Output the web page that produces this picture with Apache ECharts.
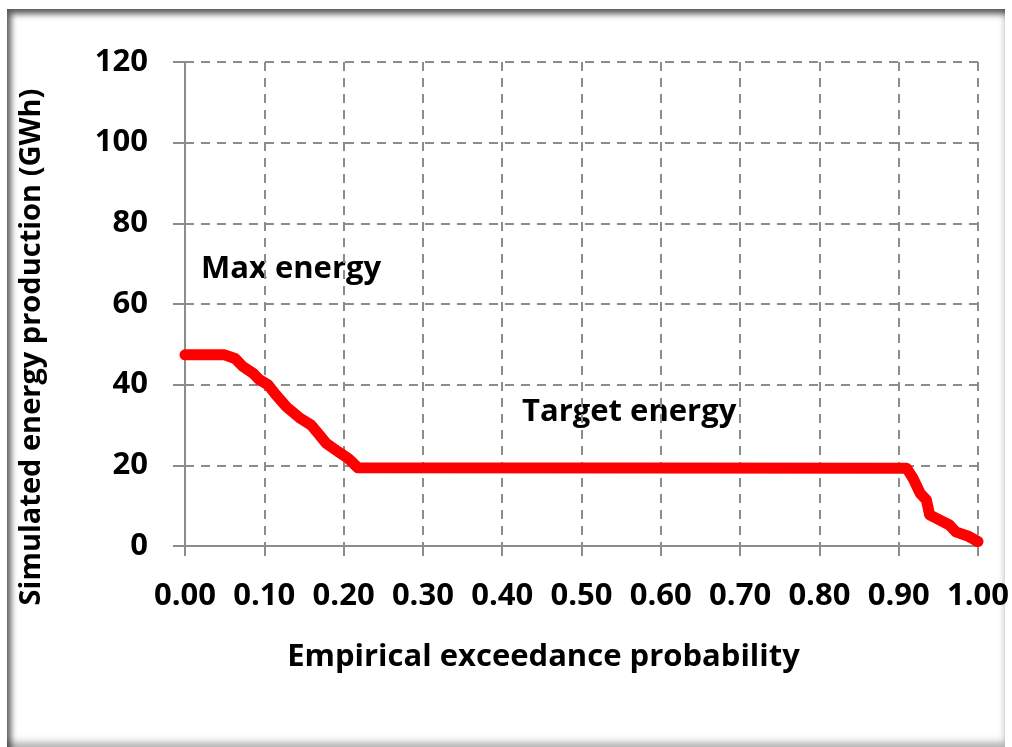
<!DOCTYPE html>
<html><head><meta charset="utf-8">
<script src="https://cdn.jsdelivr.net/npm/echarts@6/dist/echarts.min.js"></script>
<style>
html,body{margin:0;padding:0;background:#fff;width:1012px;height:747px;overflow:hidden}
#frame{position:absolute;left:7px;top:9px;width:998px;height:738px;
 box-shadow: inset 6px 7px 6px -2px rgba(0,0,0,0.65), inset -3px -8px 7px -3px rgba(0,0,0,0.3);}
#chart{position:absolute;left:0;top:0;width:1012px;height:747px}
</style></head>
<body>
<div id="frame"></div>
<div id="chart"></div>
<script>
const probs  = [0, 0.05, 0.063, 0.073, 0.086, 0.094, 0.105, 0.115, 0.128, 0.145, 0.159, 0.168, 0.178, 0.193, 0.206, 0.218, 0.910, 0.918, 0.927, 0.935, 0.939, 0.952, 0.964, 0.972, 0.987, 1.0];
const energy = [47.4, 47.4, 46.5, 44.5, 42.8, 41.2, 39.9, 37.4, 34.5, 31.7, 30.0, 27.9, 25.5, 23.4, 21.7, 19.4, 19.3, 16.8, 13.1, 11.4, 7.7, 6.4, 5.2, 3.5, 2.5, 1.1];
const xTitle = 'Empirical exceedance probability';
const yTitle = 'Simulated energy production (GWh)';
const annotations = ['Max energy', 'Target energy'];

const FONT = 'Open Sans';
const FS = 31;
const chart = echarts.init(document.getElementById('chart'), null, {renderer:'canvas'});
const axisGray = '#8c8c8c';
chart.setOption({
  backgroundColor: 'transparent',
  animation: false,
  grid: {left: 185, right: 32, top: 62, bottom: 201, containLabel: false},
  xAxis: {
    type: 'value', min: 0, max: 1, interval: 0.1,
    name: xTitle, nameLocation: 'middle', nameGap: 96,
    nameTextStyle: {fontFamily: FONT, fontWeight: 'bold', fontSize: FS, color: '#000', padding: [0, 76, 0, 0]},
    axisLine: {show: true, onZero: false, lineStyle: {color: axisGray, width: 2}},
    axisTick: {show: true, length: 10, lineStyle: {color: axisGray, width: 2}},
    axisLabel: {fontFamily: FONT, fontWeight: 'bold', fontSize: FS, color: '#000', margin: 35,
      formatter: v => v.toFixed(2)},
    splitLine: {show: true, lineStyle: {color: '#8c8c8c', width: 2, type: [9, 7]}}
  },
  yAxis: {
    type: 'value', min: 0, max: 120, interval: 20,
    name: yTitle, nameLocation: 'middle', nameGap: 139, nameRotate: 90,
    nameTextStyle: {fontFamily: FONT, fontWeight: 'bold', fontSize: 29, color: '#000', padding: [0, 86, 0, 0]},
    axisLine: {show: true, onZero: false, lineStyle: {color: axisGray, width: 2}},
    axisTick: {show: true, length: 12, lineStyle: {color: axisGray, width: 2}},
    axisLabel: {fontFamily: FONT, fontWeight: 'bold', fontSize: FS, color: '#000', margin: 37},
    splitLine: {show: true, lineStyle: {color: '#8c8c8c', width: 2, type: [9, 7]}}
  },
  series: [{
    type: 'line',
    data: probs.map((p, i) => [p, energy[i]]),
    showSymbol: false, smooth: false,
    lineStyle: {color: '#ff0000', width: 11, join: 'round', cap: 'round'},
    z: 5
  }],
  graphic: [
    {type: 'text', left: 201, top: 254, style: {text: annotations[0], font: 'bold 31px "Open Sans"', fill: '#000'}},
    {type: 'text', left: 522, top: 397, style: {text: annotations[1], font: 'bold 31px "Open Sans"', fill: '#000'}}
  ]
});
</script>
</body></html>
